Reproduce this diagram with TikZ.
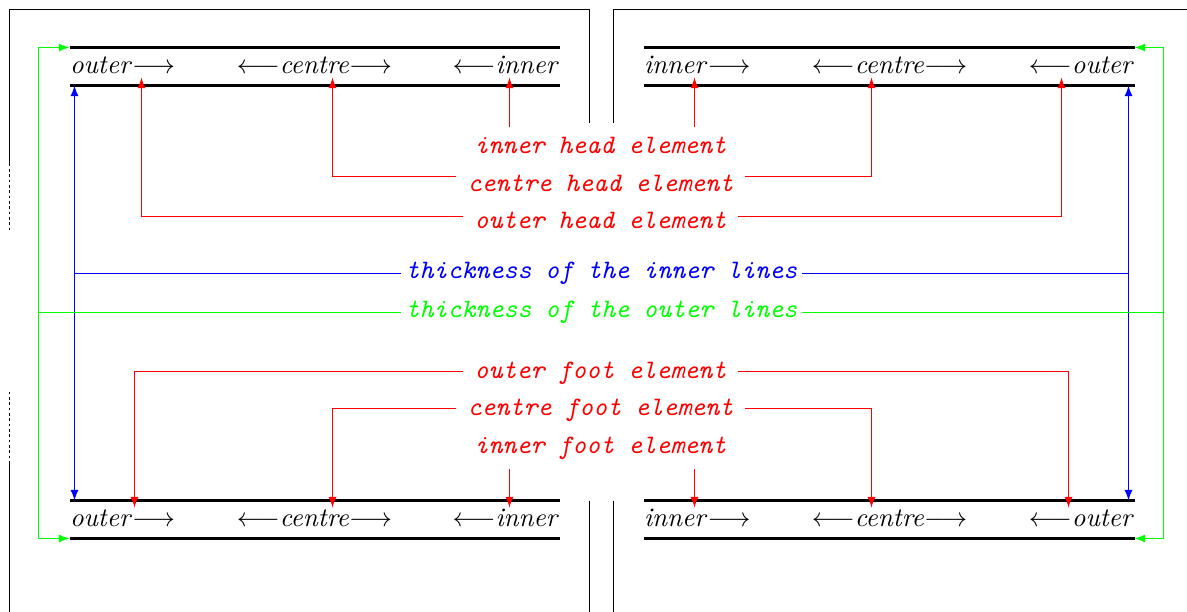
\documentclass[tikz,border=0pt]{standalone}
\usetikzlibrary{arrows}
\begin{document}
\begin{tikzpicture}[x=0.375pt,y=-0.375pt,
  rule/.style={line width=1pt},
  row/.style={inner sep=0pt},
  lbl/.style={font=\ttfamily\itshape,anchor=base,inner xsep=4pt,inner ysep=3.4pt},
  thk/.style={lbl,inner xsep=1.5pt},
  tip/.style={red,-latex}]

\useasboundingbox (-0.5,-0.5) rectangle (1186.5,610.5);

% page frames
\draw (9,163) -- (9,9) -- (589,9) -- (589,122);
\draw[dash pattern=on 1pt off 1pt] (9,163) -- (9,232);
\draw[dash pattern=on 1pt off 1pt] (9,391) -- (9,460);
\draw (9,460) -- (9,611);
\draw (589,500) -- (589,611);
\draw (613,122) -- (613,9) -- (1187,9);
\draw (613,500) -- (613,611);

% the double rules
\foreach \y in {47,85,500,538} {
	\draw[rule] (69,\y) -- (559,\y);
	\draw[rule] (643,\y) -- (1134,\y);
}

% texts between the rules
\foreach \b/\pos in {73/t,526/b} {
	\node[row,anchor=base west] (\pos l-o) at (69,\b) {\textit{outer}$\longrightarrow$};
	\node[row,anchor=base] (\pos l-c) at (314,\b) {$\longleftarrow$\textit{centre}$\longrightarrow$};
	\node[row,anchor=base east] (\pos l-i) at (559,\b) {$\longleftarrow$\textit{inner}};
	\node[row,anchor=base west] (\pos r-i) at (643,\b) {\textit{inner}$\longrightarrow$};
	\node[row,anchor=base] (\pos r-c) at (889,\b) {$\longleftarrow$\textit{centre}$\longrightarrow$};
	\node[row,anchor=base east] (\pos r-o) at (1134,\b) {$\longleftarrow$\textit{outer}};
}

% labels
\node[lbl,red] (innerhead) at (600,153) {inner head element};
\node[lbl,red] (centrehead) at (600,191) {centre head element};
\node[lbl,red] (outerhead) at (600,228) {outer head element};
\node[thk,blue] (thinner) at (601,278) {thickness of the inner lines};
\node[thk,green] (thouter) at (601,317) {thickness of the outer lines};
\node[lbl,red] (outerfoot) at (600,378) {outer foot element};
\node[lbl,red] (centrefoot) at (600,415) {centre foot element};
\node[lbl,red] (innerfoot) at (600,453) {inner foot element};

% arrow tips on the rules
\coordinate (hl-o) at (141,77);
\coordinate (hl-c) at (332,77);
\coordinate (hl-i) at (509,77);
\coordinate (hr-i) at (694,77);
\coordinate (hr-c) at (871,77);
\coordinate (hr-o) at (1061,77);
\coordinate (fl-o) at (134,507);
\coordinate (fl-c) at (332,507);
\coordinate (fl-i) at (509,507);
\coordinate (fr-i) at (694,507);
\coordinate (fr-c) at (871,507);
\coordinate (fr-o) at (1068,507);

% head elements
\draw[tip] (innerhead.north -| hl-i) -- (hl-i);
\draw[tip] (innerhead.north -| hr-i) -- (hr-i);
\draw[tip] (centrehead.west |- 0,176) -| (hl-c);
\draw[tip] (centrehead.east |- 0,176) -| (hr-c);
\draw[tip] (outerhead.west |- 0,216) -| (hl-o);
\draw[tip] (outerhead.east |- 0,216) -| (hr-o);

% foot elements
\draw[tip] (outerfoot.west |- 0,371) -| (fl-o);
\draw[tip] (outerfoot.east |- 0,371) -| (fr-o);
\draw[tip] (centrefoot.west |- 0,408) -| (fl-c);
\draw[tip] (centrefoot.east |- 0,408) -| (fr-c);
\draw[tip] (innerfoot.south -| fl-i) -- (fl-i);
\draw[tip] (innerfoot.south -| fr-i) -- (fr-i);

% inner lines
\coordinate (il-t) at (74,85);
\coordinate (il-b) at (74,500);
\coordinate (ir-t) at (1128,85);
\coordinate (ir-b) at (1128,500);
\draw[blue,latex-latex] (il-t) -- (il-b);
\draw[blue,latex-latex] (ir-t) -- (ir-b);
\draw[blue] (thinner.west -| il-t) -- (thinner.west);
\draw[blue] (thinner.east) -- (thinner.east -| ir-t);

% outer lines
\coordinate (ol-t) at (69,47);
\coordinate (ol-b) at (69,538);
\coordinate (or-t) at (1134,47);
\coordinate (or-b) at (1134,538);
\coordinate (og-l) at (38,312);
\coordinate (og-r) at (1163,312);
\draw[green,latex-latex] (ol-t) -| (og-l) |- (ol-b);
\draw[green,latex-latex] (or-t) -| (og-r) |- (or-b);
\draw[green] (thouter.west -| og-l) -- (thouter.west);
\draw[green] (thouter.east) -- (thouter.east -| og-r);

\end{tikzpicture}
\end{document}
